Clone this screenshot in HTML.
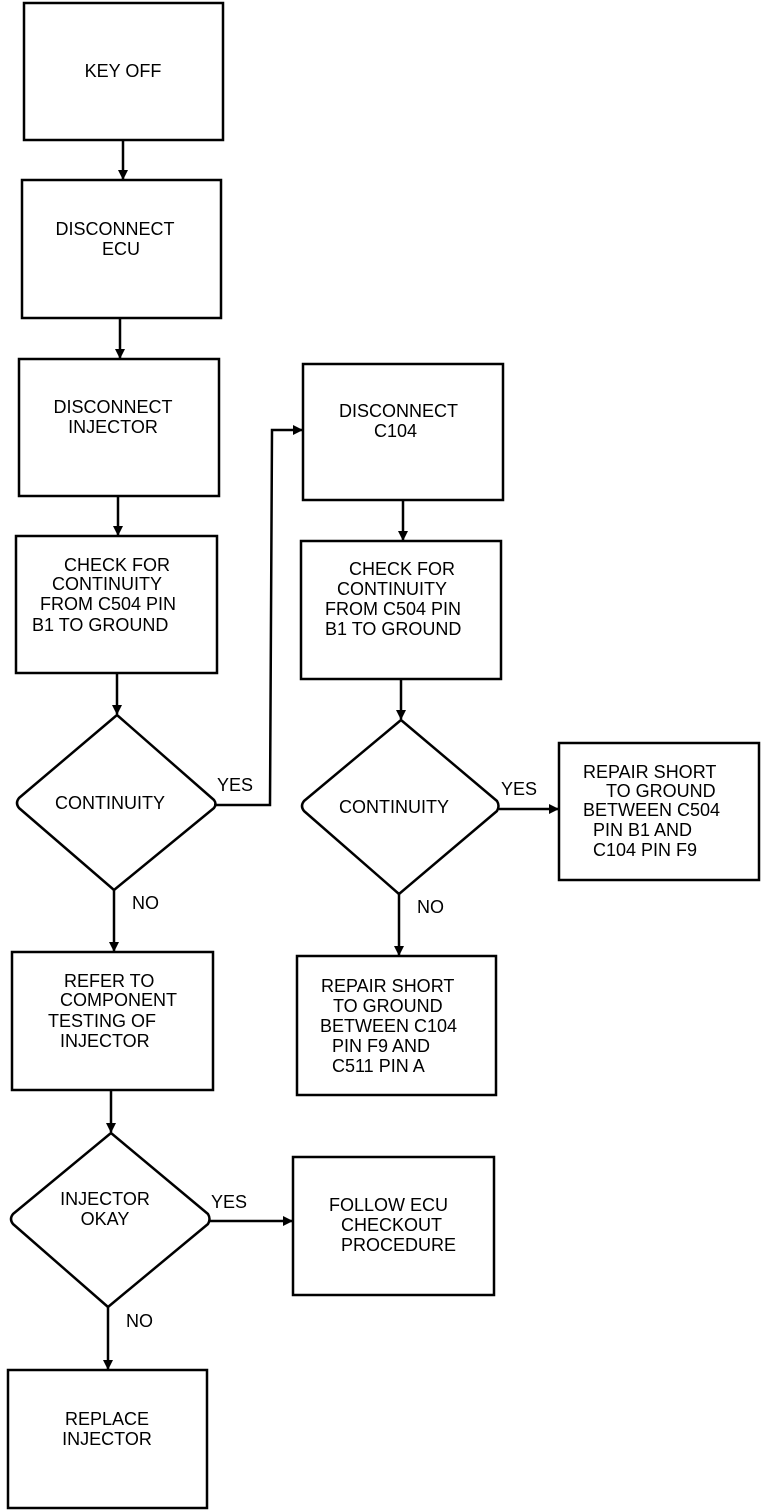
<!DOCTYPE html>
<html><head><style>html,body{margin:0;padding:0;background:#fff}svg{display:block}text{font-family:"Liberation Sans",sans-serif;font-size:18px;fill:#000}</style></head>
<body>
<svg width="768" height="1512" viewBox="0 0 768 1512" xmlns="http://www.w3.org/2000/svg">
<defs><marker id="a" markerWidth="10" markerHeight="10" refX="9" refY="5" orient="auto" markerUnits="userSpaceOnUse"><path d="M0,0 L10,5 L0,10 Z" fill="#000"/></marker></defs>
<g fill="none" stroke="#000" stroke-width="2.5">
<rect x="24" y="3" width="199" height="137"/>
<rect x="22" y="180" width="199" height="138"/>
<rect x="19" y="359" width="200" height="137"/>
<rect x="16" y="536" width="201" height="137"/>
<path d="M117,715 L214,800 Q217,804 214,808 L114,890 L19,808 Q15,803 19,798 Z" stroke-linejoin="round"/>
<rect x="12" y="952" width="201" height="138"/>
<path d="M111,1133 L208,1214 Q211,1219 208,1224 L108,1307 L13,1224 Q9,1219 13,1214 Z" stroke-linejoin="round"/>
<rect x="8" y="1370" width="199" height="138"/>
<rect x="303" y="364" width="200" height="136"/>
<rect x="301" y="541" width="200" height="138"/>
<path d="M401,720 L497,801 Q500,806 497,811 L399,894 L304,811 Q300,806 304,801 Z" stroke-linejoin="round"/>
<rect x="297" y="956" width="199" height="139"/>
<rect x="559" y="743" width="200" height="137"/>
<rect x="293" y="1157" width="201" height="138"/>
<g marker-end="url(#a)">
<line x1="123" y1="140" x2="123" y2="179"/>
<line x1="120" y1="318" x2="120" y2="358"/>
<line x1="118" y1="496" x2="118" y2="535"/>
<line x1="117" y1="673" x2="117" y2="714"/>
<line x1="114" y1="890" x2="114" y2="951"/>
<line x1="111" y1="1090" x2="111" y2="1132"/>
<line x1="108" y1="1307" x2="108" y2="1369"/>
<polyline points="214,805 270,805 272,430 302,430"/>
<line x1="403" y1="500" x2="403" y2="540"/>
<line x1="401" y1="679" x2="401" y2="719"/>
<line x1="499" y1="809" x2="558" y2="809"/>
<line x1="399" y1="894" x2="399" y2="955"/>
<line x1="210" y1="1221" x2="292" y2="1221"/>
</g>
</g>
<text x="123" y="77" text-anchor="middle">KEY OFF</text>
<text x="115" y="235" text-anchor="middle">DISCONNECT</text>
<text x="121" y="255" text-anchor="middle">ECU</text>
<text x="113" y="413" text-anchor="middle">DISCONNECT</text>
<text x="113" y="433" text-anchor="middle">INJECTOR</text>
<text x="64" y="571">CHECK FOR</text>
<text x="52" y="590">CONTINUITY</text>
<text x="40" y="610">FROM C504 PIN</text>
<text x="32" y="631">B1 TO GROUND</text>
<text x="110" y="809" text-anchor="middle">CONTINUITY</text>
<text x="217" y="791">YES</text>
<text x="132" y="909">NO</text>
<text x="64" y="987">REFER TO</text>
<text x="60" y="1006">COMPONENT</text>
<text x="48" y="1027">TESTING OF</text>
<text x="60" y="1047">INJECTOR</text>
<text x="105" y="1205" text-anchor="middle">INJECTOR</text>
<text x="105" y="1225" text-anchor="middle">OKAY</text>
<text x="211" y="1208">YES</text>
<text x="126" y="1327">NO</text>
<text x="107" y="1425" text-anchor="middle">REPLACE</text>
<text x="107" y="1445" text-anchor="middle">INJECTOR</text>
<text x="339" y="417">DISCONNECT</text>
<text x="374" y="437">C104</text>
<text x="349" y="575">CHECK FOR</text>
<text x="337" y="595">CONTINUITY</text>
<text x="325" y="615">FROM C504 PIN</text>
<text x="325" y="635">B1 TO GROUND</text>
<text x="394" y="813" text-anchor="middle">CONTINUITY</text>
<text x="501" y="795">YES</text>
<text x="417" y="913">NO</text>
<text x="583" y="778">REPAIR SHORT</text>
<text x="606" y="797">TO GROUND</text>
<text x="583" y="816">BETWEEN C504</text>
<text x="593" y="836">PIN B1 AND</text>
<text x="593" y="856">C104 PIN F9</text>
<text x="321" y="992">REPAIR SHORT</text>
<text x="333" y="1012">TO GROUND</text>
<text x="320" y="1032">BETWEEN C104</text>
<text x="332" y="1052">PIN F9 AND</text>
<text x="332" y="1072">C511 PIN A</text>
<text x="329" y="1211">FOLLOW ECU</text>
<text x="341" y="1231">CHECKOUT</text>
<text x="341" y="1251">PROCEDURE</text>
</svg>
</body></html>
